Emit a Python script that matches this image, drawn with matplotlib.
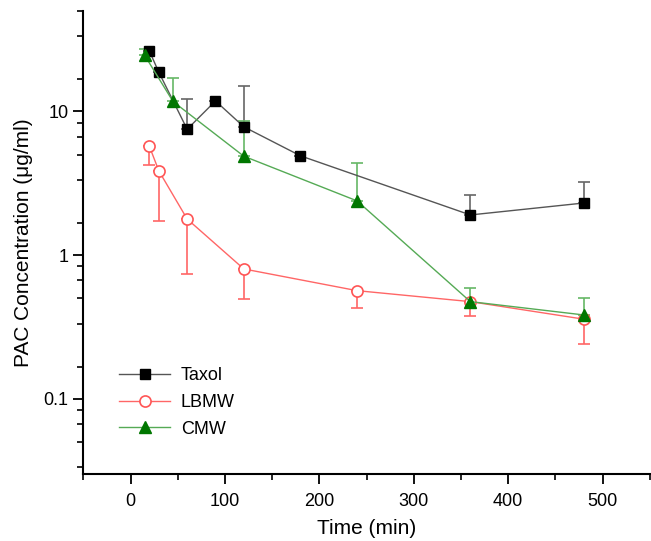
import numpy as np
import matplotlib.pyplot as plt
from matplotlib.ticker import LogLocator, FixedLocator, MultipleLocator, FuncFormatter

plt.rcParams['font.family'] = ['Liberation Sans', 'DejaVu Sans']

# Taxol
t_taxol = [20, 30, 60, 90, 120, 180, 360, 480]
c_taxol = [26.2, 18.7, 7.5, 11.8, 7.8, 4.9, 1.9, 2.3]
e_taxol = [0, 0, 4.7, 0, 7.2, 0, 0.71, 0.93]

# LBMW
t_lbmw = [20, 30, 60, 120, 240, 360, 480]
c_lbmw = [5.7, 3.85, 1.78, 0.80, 0.565, 0.474, 0.358]
e_lbmw = [1.48, 2.12, 1.04, 0.305, 0.139, 0.095, 0.118]

# CMW
t_cmw = [15, 45, 120, 240, 360, 480]
c_cmw = [24.5, 11.7, 4.87, 2.38, 0.474, 0.383]
e_cmw = [2.8, 5.3, 3.7, 2.0, 0.119, 0.123]

fig = plt.figure(figsize=(6.51, 5.41), dpi=100)
ax = fig.add_axes([0.128, 0.124, 0.870, 0.856])

ax.errorbar(t_taxol, c_taxol, yerr=[np.zeros(len(e_taxol)), e_taxol], fmt='none',
            ecolor='#666666', elinewidth=1.2, capsize=4, capthick=1.2)
ax.errorbar(t_lbmw, c_lbmw, yerr=[e_lbmw, np.zeros(len(e_lbmw))], fmt='none',
            ecolor='#ff6666', elinewidth=1.2, capsize=4, capthick=1.2)
ax.errorbar(t_cmw, c_cmw, yerr=[np.zeros(len(e_cmw)), e_cmw], fmt='none',
            ecolor='#66b866', elinewidth=1.2, capsize=4, capthick=1.2)

ax.plot(t_taxol, c_taxol, '-', color='#555555', lw=1.0, marker='s', ms=7,
        mfc='black', mec='black', label='Taxol')
ax.plot(t_lbmw, c_lbmw, '-', color='#ff6666', lw=1.0, marker='o', ms=8,
        mfc='white', mec='#ff5555', mew=1.2, label='LBMW')
ax.plot(t_cmw, c_cmw, '-', color='#55aa55', lw=1.0, marker='^', ms=9,
        mfc='#007700', mec='#007700', label='CMW')

ax.set_yscale('log')
ax.set_xlim(-50, 550)
ax.set_ylim(0.03, 50)
ax.xaxis.set_major_locator(MultipleLocator(100))
ax.xaxis.set_minor_locator(MultipleLocator(50))
ax.yaxis.set_major_locator(FixedLocator([0.1, 1, 10]))
ax.yaxis.set_minor_locator(LogLocator(base=10, subs=[10/6, 20/6, 30/6, 40/6, 50/6]))
ax.yaxis.set_major_formatter(FuncFormatter(lambda v, p: '%g' % v))
ax.yaxis.set_minor_formatter(FuncFormatter(lambda v, p: ''))

for s in ['top', 'right']:
    ax.spines[s].set_visible(False)
for s in ['left', 'bottom']:
    ax.spines[s].set_linewidth(1.5)
ax.tick_params(which='major', direction='out', length=7, width=1.3, labelsize=13)
ax.tick_params(axis='x', which='major', pad=7)
ax.tick_params(which='minor', direction='out', length=4, width=1.2)

ax.set_xlabel('Time (min)', fontsize=15, labelpad=6)
ax.set_ylabel('PAC Concentration (\u03bcg/ml)', fontsize=15, labelpad=8)

ax.legend(loc='lower left', bbox_to_anchor=(0.035, 0.043), frameon=False,
          fontsize=13, handlelength=2.8, labelspacing=0.55, handletextpad=0.6)

fig.savefig('out.png', dpi=100)
